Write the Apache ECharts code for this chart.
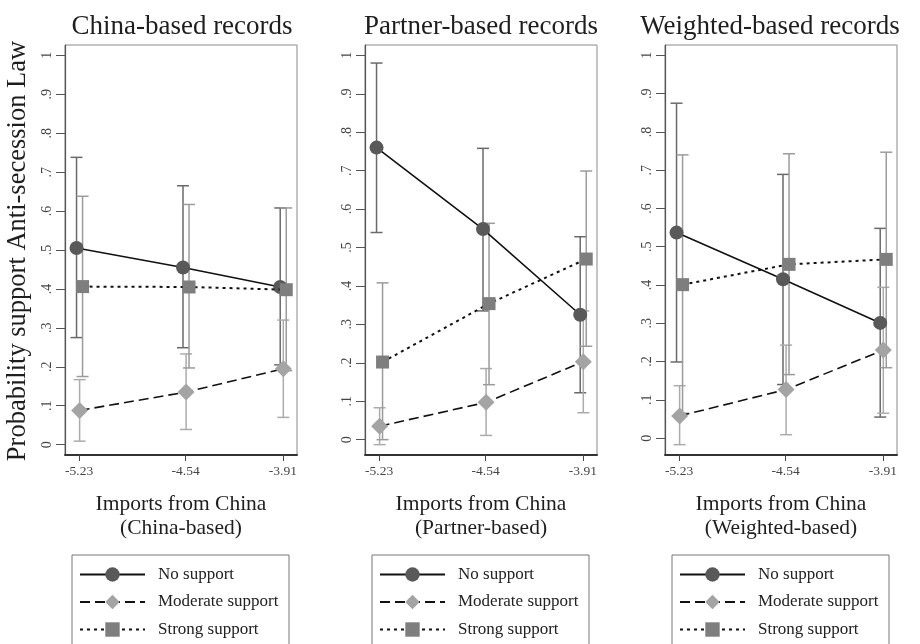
<!DOCTYPE html>
<html><head><meta charset="utf-8">
<script src="https://cdn.jsdelivr.net/npm/echarts@6/dist/echarts.min.js"></script>
<style>html,body{margin:0;padding:0;background:#fff}#c{width:920px;height:644px}</style>
</head><body><div id="c"></div>
<script>
// ---------- data ----------
const panelTitles = ['China-based records', 'Partner-based records', 'Weighted-based records'];
const xAxisNames = ['Imports from China\n(China-based)', 'Imports from China\n(Partner-based)', 'Imports from China\n(Weighted-based)'];
const yTitle = 'Probability support Anti-secession Law';
const seriesNames = ['No support', 'Moderate support', 'Strong support'];
const xValues = [-5.23, -4.54, -3.91];
const xTickLabels = ['-5.23', '-4.54', '-3.91'];
const yTickValues = [0, 0.1, 0.2, 0.3, 0.4, 0.5, 0.6, 0.7, 0.8, 0.9, 1];
const yTickLabels = ['0', '.1', '.2', '.3', '.4', '.5', '.6', '.7', '.8', '.9', '1'];

// China-based records
const chinaNo = [0.505, 0.455, 0.405];
const chinaNoLow = [0.275, 0.249, 0.205];
const chinaNoHigh = [0.738, 0.665, 0.608];
const chinaModerate = [0.088, 0.135, 0.195];
const chinaModerateLow = [0.009, 0.039, 0.070];
const chinaModerateHigh = [0.167, 0.233, 0.320];
const chinaStrong = [0.406, 0.405, 0.398];
const chinaStrongLow = [0.175, 0.197, 0.190];
const chinaStrongHigh = [0.638, 0.617, 0.608];

// Partner-based records
const partnerNo = [0.760, 0.548, 0.325];
const partnerNoLow = [0.539, 0.335, 0.122];
const partnerNoHigh = [0.980, 0.758, 0.528];
const partnerModerate = [0.035, 0.097, 0.203];
const partnerModerateLow = [-0.013, 0.011, 0.070];
const partnerModerateHigh = [0.083, 0.185, 0.335];
const partnerStrong = [0.202, 0.354, 0.470];
const partnerStrongLow = [0.000, 0.143, 0.243];
const partnerStrongHigh = [0.408, 0.563, 0.699];

// Weighted-based records
const weightedNo = [0.537, 0.415, 0.301];
const weightedNoLow = [0.199, 0.140, 0.055];
const weightedNoHigh = [0.875, 0.689, 0.548];
const weightedModerate = [0.058, 0.127, 0.230];
const weightedModerateLow = [-0.017, 0.009, 0.065];
const weightedModerateHigh = [0.137, 0.243, 0.394];
const weightedStrong = [0.401, 0.454, 0.467];
const weightedStrongLow = [0.065, 0.166, 0.184];
const weightedStrongHigh = [0.740, 0.743, 0.747];

const panels = [
  [[chinaNo, chinaNoLow, chinaNoHigh], [chinaModerate, chinaModerateLow, chinaModerateHigh], [chinaStrong, chinaStrongLow, chinaStrongHigh]],
  [[partnerNo, partnerNoLow, partnerNoHigh], [partnerModerate, partnerModerateLow, partnerModerateHigh], [partnerStrong, partnerStrongLow, partnerStrongHigh]],
  [[weightedNo, weightedNoLow, weightedNoHigh], [weightedModerate, weightedModerateLow, weightedModerateHigh], [weightedStrong, weightedStrongLow, weightedStrongHigh]]
];

// ---------- styles / layout ----------
const FONT = '"Liberation Serif", "DejaVu Serif", serif';
const styles = [
  { symbol: 'circle', size: 14, fill: '#595959', lineType: 'solid', lineWidth: 1.6, bar: '#6a6a6a', dodge: -0.017 },
  { symbol: 'diamond', size: 17, fill: '#a4a4a4', lineType: [10, 5], lineWidth: 1.6, bar: '#ababab', dodge: 0.003 },
  { symbol: 'rect', size: 13, fill: '#7e7e7e', lineType: [3, 4], lineWidth: 2, bar: '#9b9b9b', dodge: 0.022 }
];
const gridLeft = [65, 365, 665];
const titleX = [182, 481, 770];
const xPadRatio = 0.0695;
const yPadRatio = 0.0266;

const grids = [], xAxes = [], yAxes = [], series = [], legends = [], graphics = [];
const xRange = xValues[xValues.length - 1] - xValues[0];

panels.forEach((panel, i) => {
  grids.push({ left: gridLeft[i], top: 45, width: 232, height: 410, show: true,
    borderColor: '#8a8a8a', borderWidth: 1, containLabel: false, outerBoundsMode: 'none' });
  let lowest = 0;
  panel.forEach(s => s[1].forEach(v => { if (v < lowest) lowest = v; }));
  const yr = 1 - lowest;
  xAxes.push({
    type: 'value', gridIndex: i,
    min: xValues[0] - xPadRatio * xRange, max: xValues[2] + xPadRatio * xRange,
    axisLine: { onZero: false, lineStyle: { color: '#333', width: 2 } },
    axisTick: { customValues: xValues, length: 6, lineStyle: { color: '#444', width: 1 } },
    axisLabel: { customValues: xValues, margin: 9, fontFamily: FONT, fontSize: 13.5, color: '#444',
      formatter: v => { const k = xValues.findIndex(t => Math.abs(t - v) < 1e-6); return k >= 0 ? xTickLabels[k] : ''; } },
    splitLine: { show: false },
    name: xAxisNames[i], nameLocation: 'middle', nameGap: 37,
    nameTextStyle: { fontFamily: FONT, fontSize: 21.5, lineHeight: 24, color: '#1e1e1e' }
  });
  yAxes.push({
    type: 'value', gridIndex: i,
    min: lowest - yPadRatio * yr, max: 1 + yPadRatio * yr,
    axisLine: { show: true, onZero: false, lineStyle: { color: '#555', width: 1.2 } },
    axisTick: { show: true, customValues: yTickValues, length: 9, lineStyle: { color: '#555', width: 1 } },
    axisLabel: { customValues: yTickValues, rotate: 90, margin: 11, fontFamily: FONT, fontSize: 14, color: '#444',
      formatter: v => { const k = yTickValues.findIndex(t => Math.abs(t - v) < 1e-6); return k >= 0 ? yTickLabels[k] : ''; } },
    splitLine: { show: false }
  });
  // error bars
  panel.forEach((s, j) => {
    const st = styles[j];
    series.push({
      type: 'custom', name: seriesNames[j] + ' CI', xAxisIndex: i, yAxisIndex: i, z: 1,
      data: xValues.map((x, k) => [x + st.dodge, s[1][k], s[2][k]]),
      encode: { x: 0, y: [1, 2] },
      renderItem: (params, api) => {
        const x = api.value(0);
        const a = api.coord([x, api.value(1)]);
        const b = api.coord([x, api.value(2)]);
        const w = 6;
        const ls = { stroke: st.bar, lineWidth: 1.5 };
        return { type: 'group', children: [
          { type: 'line', shape: { x1: a[0], y1: a[1], x2: b[0], y2: b[1] }, style: ls },
          { type: 'line', shape: { x1: a[0] - w, y1: a[1], x2: a[0] + w, y2: a[1] }, style: ls },
          { type: 'line', shape: { x1: b[0] - w, y1: b[1], x2: b[0] + w, y2: b[1] }, style: ls }
        ] };
      }
    });
  });
  // connected lines with markers
  panel.forEach((s, j) => {
    const st = styles[j];
    series.push({
      type: 'line', name: seriesNames[j], xAxisIndex: i, yAxisIndex: i, z: 2 + j,
      data: xValues.map((x, k) => [x + st.dodge, s[0][k]]),
      symbol: st.symbol, symbolSize: st.size, showAllSymbol: true,
      itemStyle: { color: st.fill, borderWidth: 0, opacity: 1 },
      lineStyle: { color: '#111', width: st.lineWidth, type: st.lineType },
      emphasis: { disabled: true }
    });
  });
  legends.push({
    orient: 'vertical', left: gridLeft[i] + 14, top: 566, padding: 0,
    itemWidth: 65, itemHeight: 18, itemGap: 10.5, selectedMode: false,
    data: seriesNames,
    textStyle: { fontFamily: FONT, fontSize: 17, color: '#222', padding: [0, 0, 0, 8] }
  });
  graphics.push({ type: 'rect', shape: { x: gridLeft[i] + 7, y: 555, width: 217, height: 100 },
    style: { fill: 'none', stroke: '#777', lineWidth: 1 }, silent: true });
  graphics.push({ type: 'text', x: titleX[i], y: 27,
    style: { text: panelTitles[i], fontFamily: FONT, fontSize: 27, fill: '#1e1e1e',
      textAlign: 'center', textVerticalAlign: 'middle', align: 'center', verticalAlign: 'middle' } });
});

graphics.push({ type: 'text', x: 18, y: 251, rotation: Math.PI / 2,
  style: { text: yTitle, fontFamily: FONT, fontSize: 26.5, fill: '#1e1e1e',
    textAlign: 'center', textVerticalAlign: 'middle', align: 'center', verticalAlign: 'middle' } });

const chart = echarts.init(document.getElementById('c'), null, { renderer: 'canvas' });
chart.setOption({
  animation: false,
  backgroundColor: '#fff',
  grid: grids, xAxis: xAxes, yAxis: yAxes, series: series, legend: legends, graphic: graphics
});
</script></body></html>
